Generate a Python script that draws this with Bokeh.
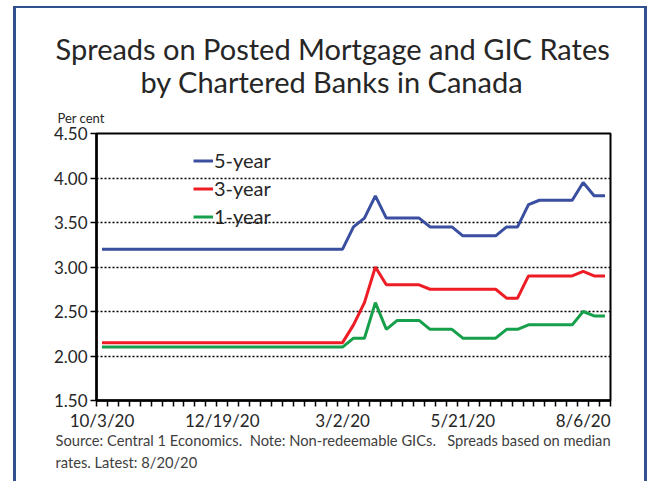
from bokeh.plotting import figure
from bokeh.models import (ColumnDataSource, FixedTicker, Legend, LegendItem, Title,
                          NumeralTickFormatter)
from bokeh.embed import file_html
from bokeh.resources import INLINE

# ---- data ----
week_index = list(range(47))
tick_positions = [0, 11, 22, 33, 44]
tick_labels = ["10/3/20", "12/19/20", "3/2/20", "5/21/20", "8/6/20"]

five_year = [3.20, 3.20, 3.20, 3.20, 3.20, 3.20, 3.20, 3.20, 3.20, 3.20,
             3.20, 3.20, 3.20, 3.20, 3.20, 3.20, 3.20, 3.20, 3.20, 3.20,
             3.20, 3.20, 3.20, 3.45, 3.55, 3.80, 3.55, 3.55, 3.55, 3.55,
             3.45, 3.45, 3.45, 3.35, 3.35, 3.35, 3.35, 3.45, 3.45, 3.70,
             3.75, 3.75, 3.75, 3.75, 3.95, 3.80, 3.80]
three_year = [2.15, 2.15, 2.15, 2.15, 2.15, 2.15, 2.15, 2.15, 2.15, 2.15,
              2.15, 2.15, 2.15, 2.15, 2.15, 2.15, 2.15, 2.15, 2.15, 2.15,
              2.15, 2.15, 2.15, 2.35, 2.60, 3.00, 2.80, 2.80, 2.80, 2.80,
              2.75, 2.75, 2.75, 2.75, 2.75, 2.75, 2.75, 2.65, 2.65, 2.90,
              2.90, 2.90, 2.90, 2.90, 2.95, 2.90, 2.90]
one_year = [2.10, 2.10, 2.10, 2.10, 2.10, 2.10, 2.10, 2.10, 2.10, 2.10,
            2.10, 2.10, 2.10, 2.10, 2.10, 2.10, 2.10, 2.10, 2.10, 2.10,
            2.10, 2.10, 2.10, 2.20, 2.20, 2.60, 2.30, 2.40, 2.40, 2.40,
            2.30, 2.30, 2.30, 2.20, 2.20, 2.20, 2.20, 2.30, 2.30, 2.35,
            2.35, 2.35, 2.35, 2.35, 2.50, 2.45, 2.45]
y_ticks = [1.5, 2.0, 2.5, 3.0, 3.5, 4.0, 4.5]

FONT = "Lato"
TXT = "#262626"
BC = "#2F528F"


def make_title(text, standoff, fallback, **kw):
    t = Title(text=text, **kw)
    try:
        t.standoff = standoff
    except Exception:
        t.standoff = fallback
    return t


src = ColumnDataSource(dict(x=week_index, five=five_year, three=three_year, one=one_year))

p = figure(width=634, height=475, output_backend="svg", toolbar_location=None,
           x_range=(-0.5, 46.5), y_range=(1.5, 4.5),
           min_border_left=80, min_border_right=40, min_border_top=125, min_border_bottom=83,
           styles={"margin-left": "13px", "margin-top": "6px",
                   "border-left": f"3px solid {BC}", "border-right": f"3px solid {BC}",
                   "border-top": f"2px solid {BC}"})
p.background_fill_color = "white"
p.border_fill_color = "white"
p.outline_line_color = "black"
p.outline_line_width = 2

# lines
r5 = p.line("x", "five", source=src, line_color="#3B4FA0", line_width=3)
r3 = p.line("x", "three", source=src, line_color="#EE1D25", line_width=3)
r1 = p.line("x", "one", source=src, line_color="#17A04B", line_width=3)

# axes
xa = p.xaxis[0]
xa.ticker = FixedTicker(ticks=tick_positions, minor_ticks=[i - 0.5 for i in range(48)])
xa.major_label_overrides = {pos: lab for pos, lab in zip(tick_positions, tick_labels)}
xa.major_tick_out = 0
xa.major_tick_in = 0
xa.minor_tick_out = 6
xa.minor_tick_in = 0
xa.minor_tick_line_color = "black"
xa.minor_tick_line_width = 1.5
xa.axis_line_width = 2.5
xa.axis_line_color = "black"
xa.major_label_text_font = FONT
xa.major_label_text_font_size = "17px"
xa.major_label_text_color = TXT
xa.major_label_standoff = 3

ya = p.yaxis[0]
ya.ticker = FixedTicker(ticks=y_ticks)
ya.formatter = NumeralTickFormatter(format="0.00")
ya.major_tick_out = 6
ya.major_tick_in = 0
ya.major_tick_line_width = 1.5
ya.minor_tick_out = 0
ya.minor_tick_in = 0
ya.axis_line_width = 2.5
ya.axis_line_color = "black"
ya.major_label_text_font = FONT
ya.major_label_text_font_size = "17px"
ya.major_label_text_color = TXT
ya.major_label_standoff = 3

p.xgrid.grid_line_color = None
p.ygrid.ticker = FixedTicker(ticks=[2.0, 2.5, 3.0, 3.5, 4.0])
p.ygrid.grid_line_color = "black"
p.ygrid.grid_line_width = 1.5
p.ygrid.grid_line_dash = "2 2"

# legend
legend = Legend(items=[LegendItem(label="5-year", renderers=[r5]),
                       LegendItem(label="3-year", renderers=[r3]),
                       LegendItem(label="1-year", renderers=[r1])],
                location=(97, 172), padding=0, margin=0, spacing=4,
                glyph_width=20, glyph_height=23, label_height=23, label_standoff=1,
                label_text_font=FONT, label_text_font_size="20px", label_text_color=TXT,
                background_fill_alpha=0, border_line_alpha=0)
p.add_layout(legend, "center")

# titles (added closest-first)
p.add_layout(make_title("Per cent", 15, 15, text_font=FONT, text_font_size="13px",
                        text_font_style="normal", text_color=TXT, align="left", offset=-39), "above")
p.add_layout(make_title(".", 10, 10, text_font=FONT, text_font_size="3px", text_alpha=0,
                        align="left"), "above")
p.add_layout(make_title("by Chartered Banks in Canada", 0, 0, text_font=FONT, text_font_size="29px",
                        text_font_style="normal", text_color=TXT, align="left", offset=44,
                        vertical_align="top"), "above")
p.add_layout(make_title("Spreads on Posted Mortgage and GIC Rates", -4, 0, text_font=FONT,
                        text_font_size="29px", text_font_style="normal", text_color=TXT,
                        align="left", offset=-41), "above")

NB = "\u00a0"
p.add_layout(make_title(f"Source: Central 1 Economics.{NB} Note: Non-redeemable GICs.{NB}{NB} Spreads based on median",
                        -6, 0, text_font=FONT, text_font_size="14.7px", text_font_style="normal",
                        text_color="#404040", align="left", offset=-41, vertical_align="top"), "below")
p.add_layout(make_title("rates. Latest: 8/20/20", 11, 5,
                        text_font=FONT, text_font_size="14.7px", text_font_style="normal",
                        text_color="#404040", align="left", offset=-41, vertical_align="top"), "below")

open("out.html", "w").write(file_html(p, INLINE))
